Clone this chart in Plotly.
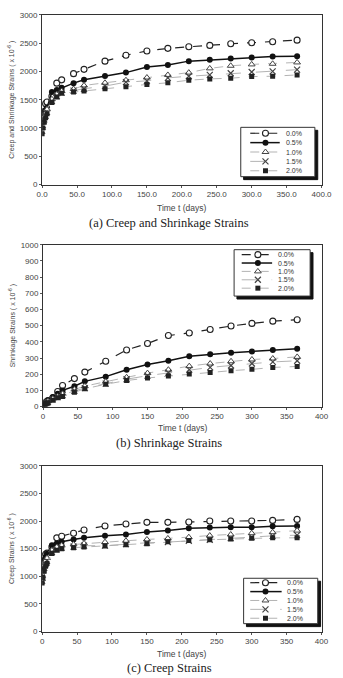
import plotly.graph_objects as go

times = [0, 1, 3, 5, 7, 14, 21, 28, 45, 60, 90, 120, 150, 180, 210, 240, 270, 300, 330, 365]
series_names = ["0.0%", "0.5%", "1.0%", "1.5%", "2.0%"]

# (a) Creep and shrinkage strains (x10^-6)
a00 = [1200, 1300, 1380, 1430, 1460, 1560, 1793, 1851, 1961, 2037, 2182, 2286, 2362, 2408, 2437, 2460, 2489, 2507, 2524, 2553]
a05 = [1100, 1200, 1280, 1320, 1360, 1636, 1671, 1712, 1793, 1851, 1921, 1979, 2077, 2112, 2182, 2205, 2228, 2246, 2263, 2269]
a10 = [1000, 1100, 1200, 1270, 1330, 1509, 1596, 1654, 1689, 1752, 1799, 1845, 1892, 1938, 1979, 2054, 2100, 2124, 2135, 2159]
a15 = [950, 1050, 1150, 1220, 1280, 1480, 1561, 1625, 1660, 1694, 1741, 1810, 1834, 1886, 1915, 1938, 1967, 1990, 2002, 2031]
a20 = [900, 1000, 1100, 1180, 1250, 1451, 1549, 1613, 1636, 1654, 1694, 1729, 1770, 1799, 1845, 1868, 1880, 1909, 1915, 1938]

# (b) Shrinkage strains
b00 = [0, 8, 22, 30, 38, 55, 93, 130, 173, 213, 280, 350, 390, 439, 455, 476, 498, 514, 528, 537]
b05 = [0, 6, 18, 28, 38, 59, 79, 100, 126, 156, 185, 228, 260, 283, 311, 323, 333, 341, 350, 358]
b10 = [0, 5, 18, 25, 33, 49, 63, 79, 106, 126, 154, 181, 207, 228, 250, 266, 280, 291, 297, 307]
b15 = [0, 5, 16, 22, 28, 45, 59, 71, 98, 114, 142, 169, 191, 209, 228, 242, 254, 266, 276, 283]
b20 = [0, 4, 14, 20, 24, 39, 55, 63, 89, 110, 138, 161, 177, 189, 201, 211, 222, 230, 242, 248]

# (c) Creep strains
c00 = [1200, 1290, 1360, 1400, 1420, 1530, 1696, 1726, 1780, 1839, 1911, 1946, 1976, 1976, 1982, 2000, 2000, 2000, 2012, 2030]
c05 = [1000, 1150, 1300, 1350, 1410, 1560, 1595, 1625, 1667, 1696, 1732, 1756, 1804, 1827, 1869, 1881, 1887, 1887, 1905, 1911]
c10 = [950, 1080, 1200, 1280, 1330, 1470, 1530, 1560, 1577, 1595, 1619, 1643, 1667, 1685, 1708, 1738, 1756, 1780, 1798, 1827]
c15 = [920, 1030, 1150, 1220, 1280, 1440, 1488, 1518, 1536, 1554, 1554, 1583, 1607, 1619, 1643, 1661, 1690, 1708, 1732, 1744]
c20 = [880, 980, 1100, 1180, 1230, 1411, 1470, 1500, 1518, 1530, 1548, 1571, 1589, 1625, 1649, 1661, 1673, 1690, 1696, 1696]

captions = ["(a) Creep and Shrinkage Strains", "(b) Shrinkage Strains", "(c) Creep Strains"]
ytitles = ["Creep and Shrinkage Strains ( x 10<sup>-6</sup> )",
           "Shrinkage Strains ( x 10<sup>-6</sup> )",
           "Creep Strains ( x 10<sup>-6</sup> )"]
xtitle = "Time t (days)"

W, H = 343, 678
def py(px):
    return 1 - px / H

styles = [
    dict(line=dict(color="#222", width=1.2, dash="dash"),
         marker=dict(symbol="circle", size=6, color="white", line=dict(width=1.1, color="#222"))),
    dict(line=dict(color="#111", width=1.5, dash="solid"),
         marker=dict(symbol="circle", size=6, color="#111")),
    dict(line=dict(color="#aaa", width=0.9, dash="dash"),
         marker=dict(symbol="triangle-up", size=6, color="white", line=dict(width=1, color="#444"))),
    dict(line=dict(color="#aaa", width=0.9, dash="longdash"),
         marker=dict(symbol="x-thin", size=6, color="#444", line=dict(width=1.2, color="#444"))),
    dict(line=dict(color="#aaa", width=0.9, dash="dash"),
         marker=dict(symbol="square", size=5, color="#222")),
]

panels = [
    dict(data=[a00, a05, a10, a15, a20], ymax=3000, dtick=500, xfmt=".1f",
         xdom=[38 / W, 332 / W], ydom=[py(183), py(11)],
         box=(247, 125, 325, 175), items=[131, 140.5, 150, 159.5, 169],
         line_x=(257, 288), mk_x=273, txt_x=292,
         cap_y=222, ttl_y=207),
    dict(data=[b00, b05, b10, b15, b20], ymax=1000, dtick=100, xfmt="d",
         xdom=[39 / W, 332 / W], ydom=[py(408), py(244)],
         box=(240, 249, 320, 296), items=[254, 262.5, 271, 279.5, 288],
         line_x=(248, 280), mk_x=265, txt_x=284,
         cap_y=445, ttl_y=430),
    dict(data=[c00, c05, c10, c15, c20], ymax=3000, dtick=500, xfmt="d",
         xdom=[38 / W, 332 / W], ydom=[py(636), py(468)],
         box=(250, 582, 328, 628), items=[586.5, 595.5, 604.5, 613.5, 622.5],
         line_x=(257, 290), mk_x=273, txt_x=294,
         cap_y=673, ttl_y=659),
]

fig = go.Figure()
axfont = dict(family="Liberation Sans, Arial, sans-serif", size=7, color="#444")
layout = {}
annotations = []
for i, p in enumerate(panels):
    n = "" if i == 0 else str(i + 1)
    for k, (vals, name) in enumerate(zip(p["data"], series_names)):
        fig.add_trace(go.Scatter(
            x=times, y=vals, name=name, mode="lines+markers",
            xaxis="x" + n, yaxis="y" + n, showlegend=False,
            line=styles[k]["line"], marker=styles[k]["marker"],
        ))
    layout["xaxis" + n] = dict(
        domain=p["xdom"], anchor="y" + n, range=[0, 400], dtick=50, tickformat=p["xfmt"],
        showline=True, mirror=True, linecolor="#333", linewidth=1,
        ticks="outside", ticklen=2, tickcolor="#555", showgrid=False, zeroline=False,
        tickfont=dict(axfont, size=8), fixedrange=True,
    )
    layout["yaxis" + n] = dict(
        domain=p["ydom"], anchor="x" + n, range=[0, p["ymax"]], dtick=p["dtick"],
        showline=True, mirror=True, linecolor="#333", linewidth=1,
        ticks="outside", ticklen=2, tickcolor="#555", showgrid=False, zeroline=False,
        tickfont=dict(axfont, size=8), fixedrange=True,
        title=dict(text=ytitles[i], font=axfont, standoff=4),
    )
    annotations.append(dict(
        text=xtitle, x=(p["xdom"][0] + p["xdom"][1]) / 2, y=py(p["ttl_y"]),
        xref="paper", yref="paper", showarrow=False, xanchor="center", yanchor="middle",
        font=dict(axfont, size=8.5),
    ))
    annotations.append(dict(
        text=captions[i], x=0.5, y=py(p["cap_y"]),
        xref="paper", yref="paper", showarrow=False, xanchor="center", yanchor="middle",
        font=dict(family="Liberation Serif, DejaVu Serif, serif", size=12.5, color="#222"),
    ))

    # hand-drawn legend on a pixel-space overlay axis
    x0, y0, x1, y1 = p["box"]
    fig.add_trace(go.Scatter(
        x=[x0 + 3, x1 + 3, x1 + 3, x0 + 3, x0 + 3], y=[y0 + 3, y0 + 3, y1 + 3, y1 + 3, y0 + 3],
        xaxis="x4", yaxis="y4", mode="lines", fill="toself", fillcolor="#111",
        line=dict(color="#111", width=1), showlegend=False, hoverinfo="skip",
    ))
    fig.add_trace(go.Scatter(
        x=[x0, x1, x1, x0, x0], y=[y0, y0, y1, y1, y0],
        xaxis="x4", yaxis="y4", mode="lines", fill="toself", fillcolor="white",
        line=dict(color="#333", width=1), showlegend=False, hoverinfo="skip",
    ))
    for k, name in enumerate(series_names):
        yy = p["items"][k]
        fig.add_trace(go.Scatter(
            x=[p["line_x"][0], p["line_x"][1]], y=[yy, yy],
            xaxis="x4", yaxis="y4", mode="lines", line=styles[k]["line"],
            showlegend=False, hoverinfo="skip",
        ))
        fig.add_trace(go.Scatter(
            x=[p["mk_x"]], y=[yy], xaxis="x4", yaxis="y4", mode="markers",
            marker=styles[k]["marker"], showlegend=False, hoverinfo="skip",
        ))
        annotations.append(dict(
            text=name, x=p["txt_x"], y=yy, xref="x4", yref="y4", showarrow=False,
            xanchor="left", yanchor="middle",
            font=dict(family="Liberation Sans, Arial, sans-serif", size=7, color="#333"),
        ))

layout["xaxis4"] = dict(domain=[0, 1], anchor="y4", range=[0, W], visible=False, fixedrange=True)
layout["yaxis4"] = dict(domain=[0, 1], anchor="x4", range=[H, 0], visible=False, fixedrange=True)

fig.update_layout(**layout)
fig.update_layout(
    width=W, height=H, margin=dict(l=0, r=0, t=0, b=0),
    paper_bgcolor="white", plot_bgcolor="rgba(0,0,0,0)",
    annotations=annotations, showlegend=False,
)
fig.write_html("out.html")
